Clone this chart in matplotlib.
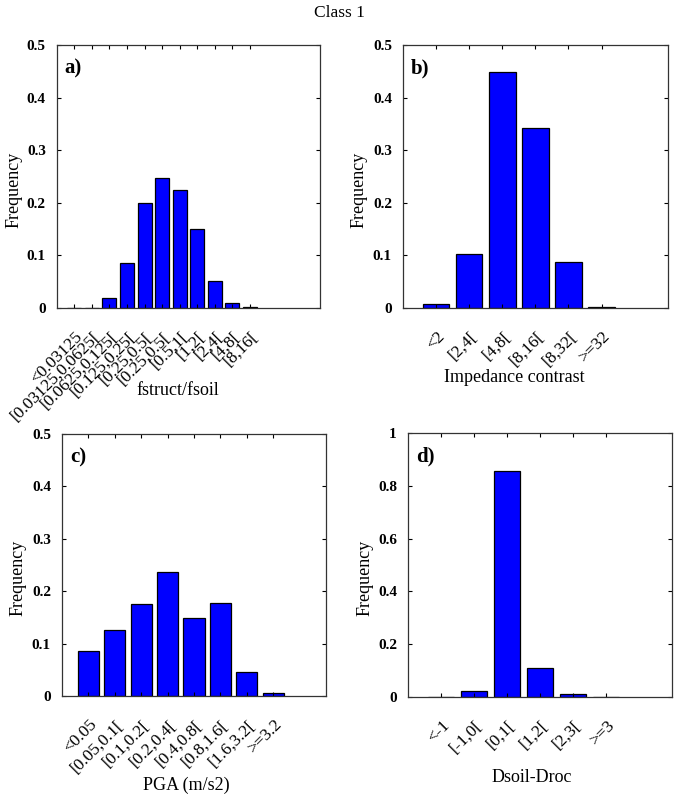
import matplotlib.pyplot as plt
import numpy as np
from matplotlib.ticker import FuncFormatter
from matplotlib.transforms import ScaledTranslation

plt.rcParams['font.family'] = ['Liberation Serif', 'DejaVu Serif']

# panel a) fstruct/fsoil
a_labels = ['<0.03125', '[0.03125,0.0625[', '[0.0625,0.125[', '[0.125,0.25[',
            '[0.25,0.5[', '[0.25,0.5[', '[0.5,1[', '[1,2[', '[2,4[', '[4,8[', '[8,16[']
a_freq = [0.0006, 0.0006, 0.019, 0.086, 0.200, 0.247, 0.225, 0.150, 0.052, 0.010, 0.0025]

# panel b) impedance contrast
b_labels = ['<2', '[2,4[', '[4,8[', '[8,16[', '[8,32[', '>=32']
b_freq = [0.007, 0.103, 0.449, 0.343, 0.088, 0.002]

# panel c) PGA
c_labels = ['<0.05', '[0.05,0.1[', '[0.1,0.2[', '[0.2,0.4[', '[0.4,0.8[',
            '[0.8,1.6[', '[1.6,3.2[', '>=3.2']
c_freq = [0.085, 0.126, 0.176, 0.237, 0.149, 0.177, 0.046, 0.006]

# panel d) Dsoil-Droc
d_labels = ['<-1', '[-1,0[', '[0,1[', '[1,2[', '[2,3[', '>=3']
d_freq = [0.001, 0.022, 0.856, 0.110, 0.013, 0.001]

fig = plt.figure(figsize=(6.77, 8.05), dpi=100)
fig.text(0.502, 0.994, 'Class 1', ha='center', va='top', fontsize=12.5)

panels = [
    ([0.084, 0.6174, 0.3885, 0.3267], a_labels, a_freq, 15, 0.5, 'a)', 'fstruct/fsoil', (0.46, -0.282), -0.13),
    ([0.5953, 0.6174, 0.391, 0.3267], b_labels, b_freq, 8, 0.5, 'b)', 'Impedance contrast', (0.42, -0.233), -0.136),
    ([0.0916, 0.1354, 0.39, 0.3255], c_labels, c_freq, 10, 0.5, 'c)', 'PGA (m/s2)', (0.47, -0.309), -0.136),
    ([0.6027, 0.1342, 0.39, 0.328], d_labels, d_freq, 8, 1.0, 'd)', 'Dsoil-Droc', (0.47, -0.273), -0.129),
]

shift = ScaledTranslation(0.06, 0, fig.dpi_scale_trans)

for rect, labels, freq, xmax, ymax, tag, xlab, xlab_pos, ylab_x in panels:
    ax = fig.add_axes(rect)
    x = np.arange(1, len(freq) + 1)
    ax.bar(x, freq, width=0.8, color='#0000ff', edgecolor='black', linewidth=0.9)
    ax.set_xlim(0, xmax)
    ax.set_ylim(0, ymax)
    ax.set_xticks(x)
    ax.set_yticks(np.linspace(0, ymax, 6))
    ax.yaxis.set_major_formatter(FuncFormatter(lambda v, p: '%g' % round(v, 2)))
    ax.tick_params(direction='in', top=True, right=True, length=3, width=0.8)
    ax.tick_params(axis='x', pad=19)
    ax.tick_params(axis='y', pad=8)
    ax.set_xticklabels(labels, rotation=45, ha='right', va='center',
                       rotation_mode='anchor', fontsize=12.5)
    for t in ax.get_xticklabels():
        t.set_transform(t.get_transform() + shift)
    for t in ax.get_yticklabels():
        t.set_fontweight('bold')
        t.set_fontsize(11)
    for s in ax.spines.values():
        s.set_linewidth(0.9)
        s.set_color('#333333')
    ax.text(0.03, 0.91, tag, transform=ax.transAxes, fontsize=15, fontweight='bold',
            ha='left', va='center')
    ax.set_ylabel('Frequency', fontsize=13)
    ax.yaxis.set_label_coords(ylab_x, 0.45)
    ax.set_xlabel(xlab, fontsize=13)
    ax.xaxis.set_label_coords(*xlab_pos)

plt.savefig('out.png', dpi=100)
